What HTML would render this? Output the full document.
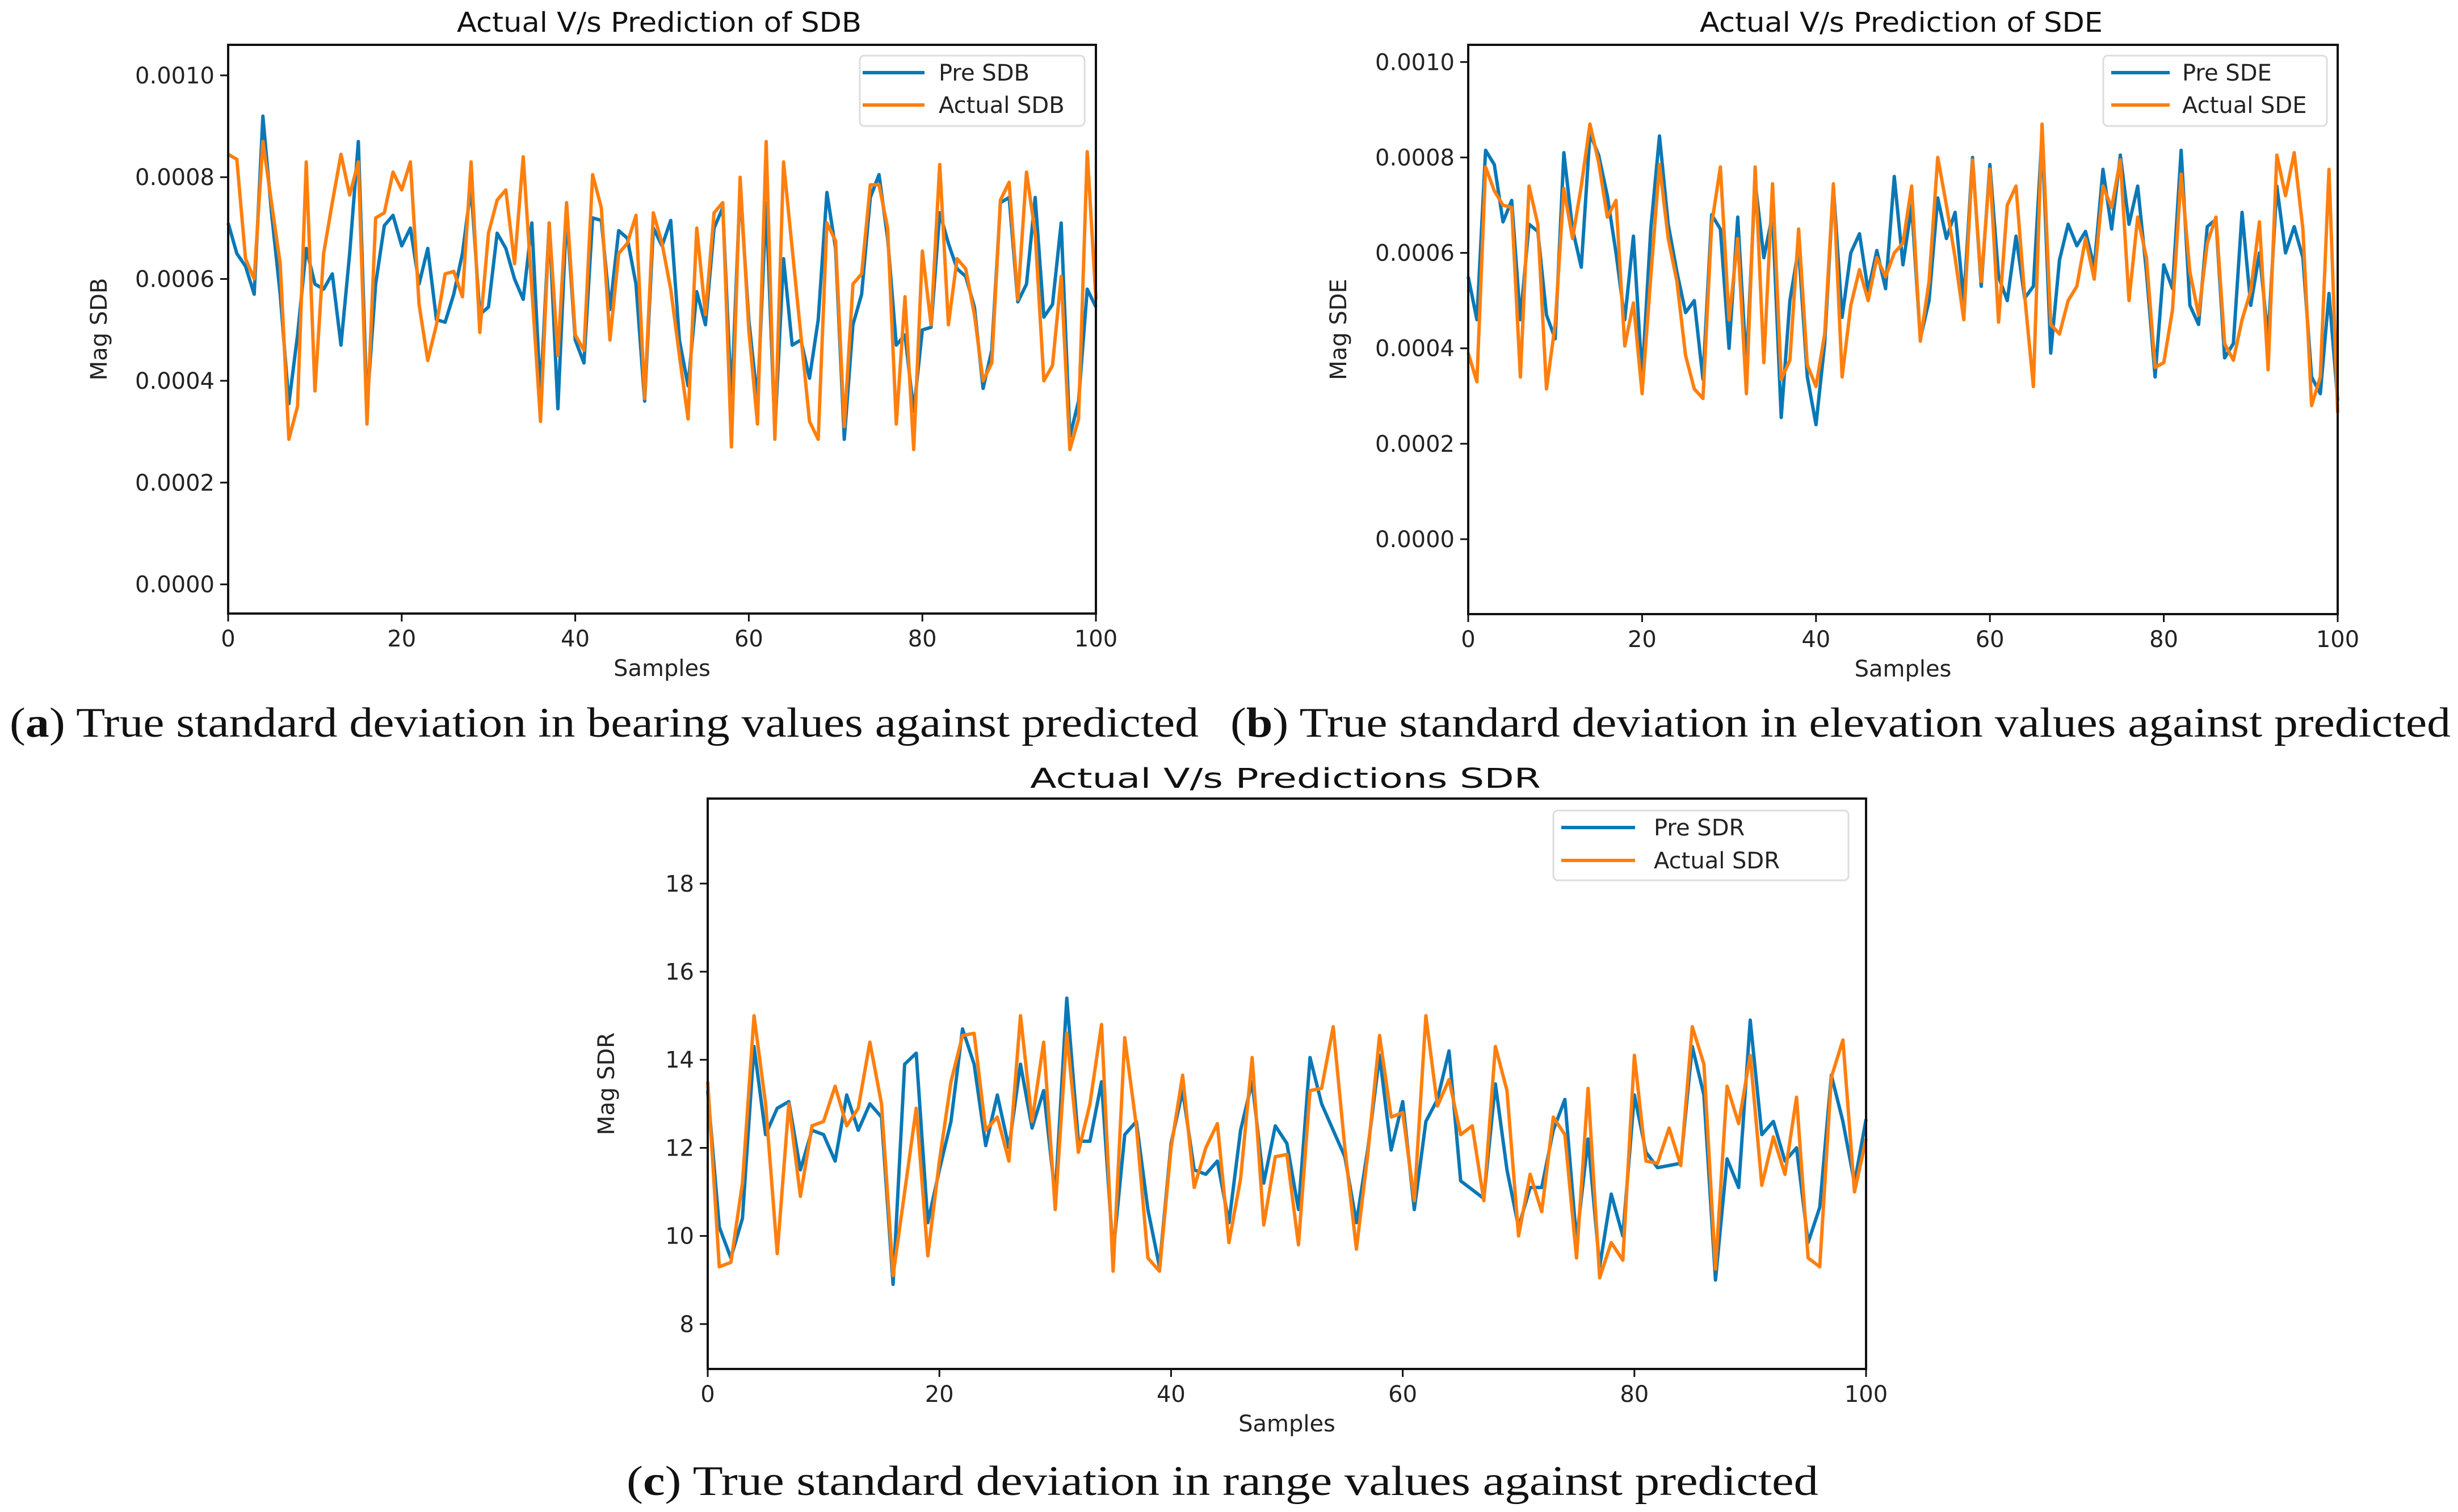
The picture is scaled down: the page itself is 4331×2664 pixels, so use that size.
<!DOCTYPE html>
<html><head><meta charset="utf-8"><style>
html,body{margin:0;padding:0;background:#fff;}
svg{display:block;}
.tk{font-family:"DejaVu Sans","Liberation Sans",sans-serif;font-size:40px;fill:#222;}
.ti{font-family:"DejaVu Sans","Liberation Sans",sans-serif;font-size:48px;fill:#111;}
.cap{font-family:"Liberation Serif",serif;font-size:74px;fill:#111;}
</style></head><body>
<svg id="fig" width="4331" height="2664" viewBox="0 0 4331 2664" xmlns="http://www.w3.org/2000/svg">
<text class="cap" x="17" y="1298" textLength="2095" lengthAdjust="spacingAndGlyphs">(<tspan font-weight="bold">a</tspan>) True standard deviation in bearing values against predicted</text>
<text class="cap" x="2168" y="1298" textLength="2150" lengthAdjust="spacingAndGlyphs">(<tspan font-weight="bold">b</tspan>) True standard deviation in elevation values against predicted</text>
<text class="cap" x="1104" y="2634" textLength="2100" lengthAdjust="spacingAndGlyphs">(<tspan font-weight="bold">c</tspan>) True standard deviation in range values against predicted</text>
</svg>
<script>
const samples = Array.from({length:101},(_,i)=>i);
const xTicks = [0,20,40,60,80,100];
const preSDB = [7.1,6.5,6.25,5.7,9.2,7.3,5.7,3.55,4.9,6.6,5.9,5.8,6.1,4.7,6.5,8.7,3.5,5.9,7.05,7.25,6.65,7.0,5.9,6.6,5.2,5.15,5.7,6.5,7.8,5.3,5.45,6.9,6.6,6.0,5.6,7.1,3.7,7.1,3.45,7.3,4.8,4.35,7.2,7.15,5.4,6.95,6.8,5.9,3.6,7.0,6.65,7.15,4.8,3.9,5.75,5.1,7.0,7.4,3.6,7.8,5.2,3.6,7.5,3.0,6.4,4.7,4.8,4.05,5.2,7.7,6.6,2.85,5.1,5.7,7.6,8.05,6.8,4.7,4.9,3.4,5.0,5.05,7.3,6.7,6.2,6.05,5.45,3.85,4.6,7.5,7.6,5.55,5.9,7.6,5.25,5.5,7.1,2.9,3.6,5.8,5.45];
const actSDB = [8.45,8.35,6.4,6.0,8.7,7.5,6.3,2.85,3.5,8.3,3.8,6.5,7.5,8.45,7.65,8.3,3.15,7.2,7.3,8.1,7.75,8.3,5.5,4.4,5.1,6.1,6.15,5.65,8.3,4.95,6.9,7.55,7.75,6.3,8.4,5.8,3.2,7.1,4.5,7.5,4.9,4.6,8.05,7.4,4.8,6.5,6.7,7.25,3.65,7.3,6.7,5.8,4.5,3.25,7.0,5.3,7.3,7.5,2.7,8.0,5.0,3.15,8.7,2.85,8.3,6.6,4.9,3.2,2.85,7.1,6.75,3.1,5.9,6.1,7.85,7.85,7.0,3.15,5.65,2.65,6.55,5.1,8.25,5.1,6.4,6.2,5.3,4.0,4.35,7.55,7.9,5.6,8.1,6.9,4.0,4.3,6.05,2.65,3.25,8.5,5.6];
const preSDE = [5.5,4.6,8.15,7.85,6.65,7.1,4.6,6.6,6.45,4.7,4.2,8.1,6.5,5.7,8.5,8.05,7.2,6.0,4.6,6.35,3.4,6.5,8.45,6.6,5.6,4.75,5.0,3.35,6.8,6.5,4.0,6.75,3.6,7.5,5.9,6.8,2.55,5.0,6.1,3.4,2.4,4.1,7.4,4.65,6.0,6.4,5.2,6.05,5.25,7.6,5.75,7.0,4.2,5.0,7.15,6.3,6.85,5.0,8.0,5.3,7.85,5.5,5.0,6.35,5.05,5.3,8.5,3.9,5.85,6.6,6.15,6.45,5.7,7.75,6.5,8.05,6.6,7.4,5.6,3.4,5.75,5.25,8.15,4.9,4.5,6.55,6.7,3.8,4.1,6.85,4.9,6.0,4.2,7.4,6.0,6.55,5.9,3.4,3.05,5.15,2.9];
const actSDE = [3.9,3.3,7.8,7.3,7.0,6.95,3.4,7.4,6.6,3.15,4.5,7.35,6.3,7.4,8.7,7.9,6.75,7.1,4.05,4.95,3.05,5.5,7.85,6.3,5.4,3.85,3.15,2.95,6.6,7.8,4.6,6.3,3.05,7.8,3.7,7.45,3.35,3.75,6.5,3.65,3.2,4.3,7.45,3.4,4.9,5.65,5.0,5.9,5.5,6.0,6.2,7.4,4.15,5.4,8.0,7.0,5.9,4.6,7.95,5.4,7.75,4.55,7.0,7.4,5.1,3.2,8.7,4.5,4.3,5.0,5.3,6.3,5.45,7.4,6.95,7.95,5.0,6.75,5.9,3.6,3.7,4.8,7.65,5.6,4.7,6.2,6.75,4.1,3.75,4.6,5.2,6.65,3.55,8.05,7.2,8.1,6.5,2.8,3.4,7.75,2.65];
const preSDR = [13.3,10.2,9.5,10.4,14.3,12.3,12.9,13.05,11.5,12.4,12.3,11.7,13.2,12.4,13.0,12.7,8.9,13.9,14.15,10.3,11.5,12.6,14.7,13.9,12.05,13.2,12.0,13.9,12.45,13.3,10.9,15.4,12.15,12.15,13.5,9.6,12.3,12.6,10.6,9.3,12.1,13.3,11.5,11.4,11.7,10.3,12.4,13.5,11.2,12.5,12.1,10.6,14.05,13.0,12.4,11.8,10.3,12.0,14.1,11.95,13.05,10.6,12.6,13.1,14.2,11.25,11.05,10.85,13.45,11.5,10.2,11.1,11.1,12.4,13.1,9.9,12.2,9.3,10.95,10.0,13.2,11.9,11.55,11.6,11.65,14.3,13.2,9.0,11.75,11.1,14.9,12.3,12.6,11.7,12.0,9.85,10.65,13.65,12.6,11.2,12.65];
const actSDR = [13.5,9.3,9.4,11.2,15.0,13.0,9.6,13.0,10.9,12.5,12.6,13.4,12.5,12.9,14.4,13.0,9.1,11.0,12.9,9.55,11.7,13.5,14.55,14.6,12.4,12.7,11.7,15.0,12.6,14.4,10.6,14.6,11.9,13.0,14.8,9.2,14.5,12.5,9.5,9.2,12.0,13.65,11.1,12.0,12.55,9.85,11.3,14.05,10.25,11.8,11.85,9.8,13.3,13.35,14.75,12.0,9.7,11.9,14.55,12.7,12.8,10.8,15.0,12.95,13.55,12.3,12.5,10.8,14.3,13.3,10.0,11.4,10.55,12.7,12.3,9.5,13.35,9.05,9.85,9.45,14.1,11.7,11.65,12.45,11.6,14.75,13.9,9.25,13.4,12.55,14.1,11.15,12.25,11.4,13.15,9.5,9.3,13.6,14.45,11.0,12.2];
const yTicksSD = [0,2,4,6,8,10];
const yTickLabelsSD = ["0.0000","0.0002","0.0004","0.0006","0.0008","0.0010"];
const yTicksSDR = [8,10,12,14,16,18];
const yTickLabelsSDR = ["8","10","12","14","16","18"];

const NS="http://www.w3.org/2000/svg";
const svg=document.getElementById('fig');
function mk(tag,attrs,parent){const e=document.createElementNS(NS,tag);for(const k in attrs)e.setAttribute(k,attrs[k]);(parent||svg).appendChild(e);return e;}

function chart(c){
  const g=mk('g',{});
  
  
  const xs=v=>c.x0+(v-0)/(100-0)*(c.x1-c.x0);
  const ys=v=>c.yb-(v-c.ymin)/(c.ymax-c.ymin)*(c.yb-c.yt);
  [[c.pre,'#0a78b6','pre-line'],[c.act,'#ff7f0e','actual-line']].forEach(s=>{
    const p=mk('polyline',{points:s[0].map((v,i)=>xs(samples[i]).toFixed(1)+','+ys(v).toFixed(1)).join(' '),fill:'none',stroke:s[1],'stroke-width':6,'stroke-linejoin':'round'},g);
    
    
  });
  const fr=mk('rect',{x:c.x0,y:c.yt,width:c.x1-c.x0,height:c.yb-c.yt,fill:'none',stroke:'#111','stroke-width':4},g);
  
  
  xTicks.forEach(t=>{
    mk('line',{x1:xs(t),x2:xs(t),y1:c.yb,y2:c.yb+14,stroke:'#111','stroke-width':3},g);
    const tx=mk('text',{x:xs(t),y:c.yb+58,'text-anchor':'middle',class:'tk'},g);
    tx.textContent=t;
    
    
  });
  c.yt_.forEach((t,i)=>{
    mk('line',{x1:c.x0-14,x2:c.x0,y1:ys(t),y2:ys(t),stroke:'#111','stroke-width':3},g);
    const tx=mk('text',{x:c.x0-24,y:ys(t)+14,'text-anchor':'end',class:'tk'},g);
    tx.textContent=c.yl[i];
    
    
  });
  const xl=mk('text',{x:(c.x0+c.x1)/2,y:c.yb+110,'text-anchor':'middle',class:'tk'},g);
  xl.textContent='Samples';
  
  
  const yc=(c.yt+c.yb)/2;
  const yl=mk('text',{x:c.ylx,y:yc,'text-anchor':'middle',class:'tk',transform:`rotate(-90 ${c.ylx} ${yc})`},g);
  yl.textContent=c.ylabel;
  
  
  const ti=mk('text',{x:c.tx0,y:c.ty,class:'ti',textLength:c.tx1-c.tx0,lengthAdjust:'spacingAndGlyphs'},g);
  ti.textContent=c.title;
  
  
  const L=c.leg;
  const lb=mk('rect',{x:L.x,y:L.y,width:L.w,height:L.h,rx:8,fill:'#fff','fill-opacity':0.85,stroke:'#ddd','stroke-width':3},g);
  
  
  [[c.names[0],'#0a78b6',L.r1],[c.names[1],'#ff7f0e',L.r2]].forEach(e=>{
    mk('line',{x1:L.lx0,x2:L.lx1,y1:e[2],y2:e[2],stroke:e[1],'stroke-width':6},g);
    const t=mk('text',{x:L.tx,y:e[2]+14,class:'tk'},g);
    t.textContent=e[0];
    
    
  });
}
chart({id:'chart-sdb',x0:402,x1:1931,yt:79,yb:1081,ymin:-0.573,ymax:10.6,pre:preSDB,act:actSDB,yt_:yTicksSD,yl:yTickLabelsSD,ylabel:'Mag SDB',ylx:188,title:'Actual V/s Prediction of SDB',tx0:805,tx1:1518,ty:56,names:['Pre SDB','Actual SDB'],leg:{x:1515,y:98,w:396,h:124,lx0:1520,lx1:1629,r1:128,r2:185,tx:1654}});
chart({id:'chart-sde',x0:2587,x1:4119,yt:79,yb:1082,ymin:-1.57,ymax:10.36,pre:preSDE,act:actSDE,yt_:yTicksSD,yl:yTickLabelsSD,ylabel:'Mag SDE',ylx:2372,title:'Actual V/s Prediction of SDE',tx0:2995,tx1:3705,ty:56,names:['Pre SDE','Actual SDE'],leg:{x:3706,y:98,w:394,h:124,lx0:3720,lx1:3823,r1:128,r2:185,tx:3845}});
chart({id:'chart-sdr',x0:1247,x1:3288,yt:1407,yb:2412,ymin:6.98,ymax:19.93,pre:preSDR,act:actSDR,yt_:yTicksSDR,yl:yTickLabelsSDR,ylabel:'Mag SDR',ylx:1082,title:'Actual V/s Predictions SDR',tx0:1815,tx1:2715,ty:1388,names:['Pre SDR','Actual SDR'],leg:{x:2737,y:1428,w:520,h:123,lx0:2751,lx1:2881,r1:1458,r2:1516,tx:2914}});
</script>
</body></html>
